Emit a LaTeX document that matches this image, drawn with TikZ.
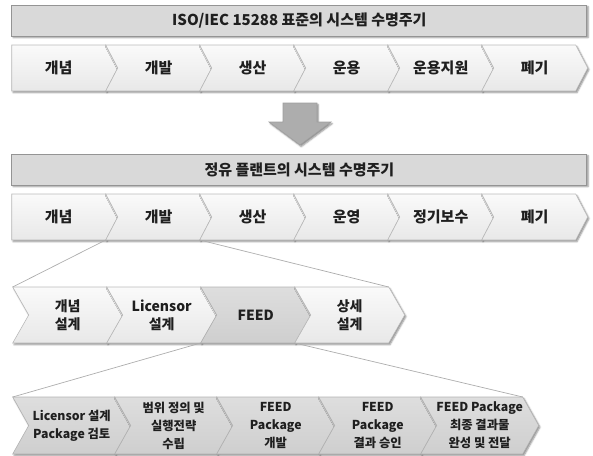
\documentclass[tikz,border=0pt]{standalone}
\usepackage{fontspec}
\setmainfont{Noto Sans CJK KR}
\usetikzlibrary{calc,shadows.blur}
\tikzset{
  x=1pt, y=-1pt,
  shad/.style={blur shadow={shadow xshift=1.3pt, shadow yshift=-1.6pt, shadow blur radius=1.6pt, shadow opacity=45}},
  chev/.style={shad, draw=black!27, line width=0.6pt, top color=black!2, bottom color=black!9},
  chevdark/.style={shad, draw=black!30, line width=0.6pt, top color=black!13, bottom color=black!19},
  barbox/.style={shad, draw=black!42, line width=1pt, fill=black!15, minimum width=575pt, minimum height=31pt, inner sep=0pt, font=\bfseries\fontsize{15}{18}\selectfont, text=black!88},
  lblA/.style={font=\bfseries\fontsize{15}{18}\selectfont, align=center, text=black!88, inner sep=0pt},
  lblB/.style={font=\bfseries\fontsize{14}{18}\selectfont, align=center, text=black!88, inner sep=0pt},
  lblC/.style={font=\bfseries\fontsize{12.3}{18}\selectfont, align=center, text=black!88, inner sep=0pt},
  zoomline/.style={draw=black!32, line width=0.7pt},
  downarrow/.style={shad, draw=black!38, line width=0.6pt, fill=black!32},
}
% #1 name, #2 shape style, #3 x0, #4 ytop, #5 body width, #6 height, #7 tip depth, #8 notch depth
\newcommand\chevshape[8]{%
  \path[#2] (#3,#4) coordinate (#1-tl) -- ++(#5,0) coordinate (#1-tr)
    -- ++(#7,#6/2) coordinate (#1-tip) -- ++(-#7,#6/2) coordinate (#1-br)
    -- ++(-#5,0) coordinate (#1-bl) -- ++(#8,-#6/2) coordinate (#1-notch) -- cycle;
  \coordinate (#1-c) at ($(#1-tl)!0.5!(#1-br) + (#8/2,0)$);
}
\begin{document}
\begin{tikzpicture}
\useasboundingbox (0,0) rectangle (593,455);

% ---- row 1
\node[barbox] (bar1) at (299.35,20.5) {ISO/IEC 15288 표준의 시스템 수명주기};
\chevshape{r1a}{chev}{11.7}{45}{94}{46}{12}{0}
\chevshape{r1b}{chev}{105.7}{45}{94}{46}{12}{12}
\chevshape{r1c}{chev}{199.7}{45}{94}{46}{12}{12}
\chevshape{r1d}{chev}{293.7}{45}{94}{46}{12}{12}
\chevshape{r1e}{chev}{387.7}{45}{94}{46}{12}{12}
\chevshape{r1f}{chev}{481.7}{45}{94}{46}{12}{12}
\node[lblA] (t1a) at (r1a-c) {개념};
\node[lblA] (t1b) at (r1b-c) {개발};
\node[lblA] (t1c) at (r1c-c) {생산};
\node[lblA] (t1d) at (r1d-c) {운용};
\node[lblA] (t1e) at (r1e-c) {운용지원};
\node[lblA] (t1f) at (r1f-c) {폐기};

% ---- arrow
\path[downarrow] (283,103) -- (317,103) -- (317,122) -- (331,122) -- (300,145) coordinate (arrowtip) -- (269,122) -- (283,122) -- cycle;

% ---- row 2
\node[barbox] (bar2) at (299.35,169.5) {정유 플랜트의 시스템 수명주기};
\chevshape{r2a}{chev}{11.7}{194}{94}{46}{12}{0}
\chevshape{r2b}{chev}{105.7}{194}{94}{46}{12}{12}
\chevshape{r2c}{chev}{199.7}{194}{94}{46}{12}{12}
\chevshape{r2d}{chev}{293.7}{194}{94}{46}{12}{12}
\chevshape{r2e}{chev}{387.7}{194}{94}{46}{12}{12}
\chevshape{r2f}{chev}{481.7}{194}{94}{46}{12}{12}
\node[lblA] (t2a) at (r2a-c) {개념};
\node[lblA] (t2b) at (r2b-c) {개발};
\node[lblA] (t2c) at (r2c-c) {생산};
\node[lblA] (t2d) at (r2d-c) {운영};
\node[lblA] (t2e) at (r2e-c) {정기보수};
\node[lblA] (t2f) at (r2f-c) {폐기};

% ---- row 3
\chevshape{r3a}{chev}{12.7}{287}{94}{56}{16}{16}
\chevshape{r3b}{chev}{106.7}{287}{94}{56}{16}{16}
\chevshape{r3c}{chevdark}{200.7}{287}{94}{56}{16}{16}
\chevshape{r3d}{chev}{294.7}{287}{94}{56}{16}{16}
\node[lblB] (t3a) at (r3a-c) {개념\\설계};
\node[lblB] (t3b) at (r3b-c) {Licensor\\설계};
\node[lblB] (t3c) at (r3c-c) {FEED};
\node[lblB] (t3d) at (r3d-c) {상세\\설계};

% ---- row 4
\chevshape{r4a}{chevdark}{12.7}{397}{102}{57}{16}{16}
\chevshape{r4b}{chevdark}{114.7}{397}{102}{57}{16}{16}
\chevshape{r4c}{chevdark}{216.7}{397}{102}{57}{16}{16}
\chevshape{r4d}{chevdark}{318.7}{397}{102}{57}{16}{16}
\chevshape{r4e}{chevdark}{420.7}{397}{102}{57}{16}{16}
\node[lblC] (t4a) at (r4a-c) {Licensor 설계\\Package 검토};
\node[lblC] (t4b) at (r4b-c) {범위 정의 및\\실행전략\\수립};
\node[lblC] (t4c) at (r4c-c) {FEED\\Package\\개발};
\node[lblC] (t4d) at (r4d-c) {FEED\\Package\\결과 승인};
\node[lblC] (t4e) at (r4e-c) {FEED Package\\최종 결과물\\완성 및 전달};

% ---- zoom connectors
\draw[zoomline] (r2b-bl) -- (r3a-tl);
\draw[zoomline] (r2b-br) -- (r3d-tr);
\draw[zoomline] (r3c-bl) -- (r4a-tl);
\draw[zoomline] (r3c-br) -- (r4e-tr);
\end{tikzpicture}
\end{document}
